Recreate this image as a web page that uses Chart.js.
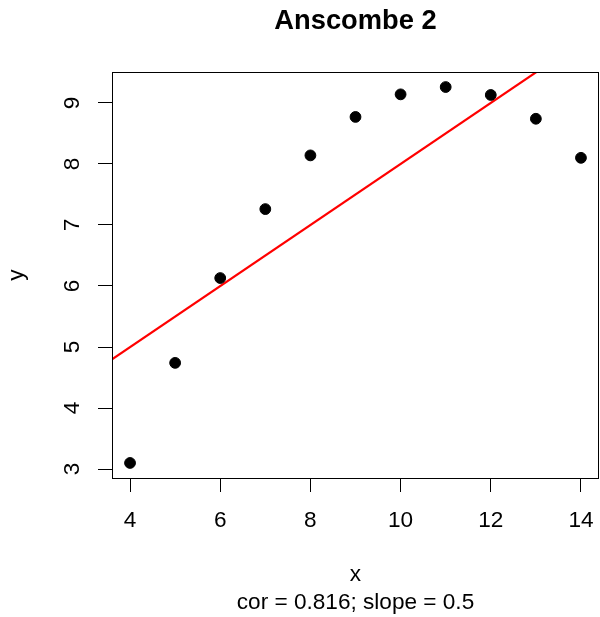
<!DOCTYPE html>
<html>
<head>
<meta charset="utf-8">
<title>Anscombe 2</title>
<script src="https://cdn.jsdelivr.net/npm/chart.js@4"></script>
<style>
  html, body { margin: 0; padding: 0; background: #fff; }
  #wrap { width: 600px; height: 617px; }
</style>
</head>
<body>
<div id="wrap"><canvas id="plot" width="600" height="617"></canvas></div>
<script>
// Anscombe's quartet, set 2
const xValues = [10, 8, 13, 9, 11, 14, 6, 4, 12, 7, 5];
const yValues = [9.14, 8.14, 8.74, 8.77, 9.26, 8.10, 6.13, 3.10, 9.13, 7.26, 4.74];

// least squares line, taken at the two ends of the x range
const fitX = [3.6, 14.4];
const fitY = [4.8, 10.2];

const xTicks = [4, 6, 8, 10, 12, 14];
const yTicks = [3, 4, 5, 6, 7, 8, 9];
const xRange = [3.6, 14.4];
const yRange = [2.8536, 9.5064];

const plotTitle = 'Anscombe 2';
const xLabel = 'x';
const subLabel = 'cor = 0.816; slope = 0.5';
const yLabel = 'y';

const FONT = '"Liberation Sans", Arial, Helvetica, sans-serif';
const FS = 22.6;
Chart.defaults.color = '#000';
Chart.defaults.font.family = FONT;

const points = xValues.map((x, i) => ({ x: x, y: yValues[i] }));
const fitLine = fitX.map((x, i) => ({ x: x, y: fitY[i] }));

// box round the plot region plus the main title on top
const framePlugin = {
  id: 'frame',
  afterDraw(chart) {
    const a = chart.chartArea;
    const ctx = chart.ctx;
    ctx.save();
    ctx.strokeStyle = '#000';
    ctx.lineWidth = 1;
    ctx.strokeRect(Math.round(a.left) + 0.5, Math.round(a.top) + 0.5,
      Math.round(a.right - a.left) - 1, Math.round(a.bottom - a.top));
    ctx.fillStyle = '#000';
    ctx.font = 'bold 27.3px ' + FONT;
    ctx.textAlign = 'center';
    ctx.textBaseline = 'alphabetic';
    ctx.fillText(plotTitle, (a.left + a.right) / 2, 28.8);
    ctx.restore();
  }
};

new Chart(document.getElementById('plot'), {
  type: 'scatter',
  data: {
    datasets: [
      {
        type: 'line',
        data: fitLine,
        borderColor: '#ff0000',
        borderWidth: 2.2,
        pointRadius: 0,
        fill: false,
        clip: 0,
        order: 2
      },
      {
        data: points,
        backgroundColor: '#000',
        borderColor: '#000',
        borderWidth: 1,
        pointRadius: 5.4,
        order: 1
      }
    ]
  },
  options: {
    responsive: false,
    animation: false,
    events: [],
    layout: { autoPadding: false, padding: { top: 72, right: 1, left: 0, bottom: 0 } },
    plugins: {
      legend: { display: false },
      tooltip: { enabled: false },
      title: { display: false }
    },
    scales: {
      x: {
        type: 'linear',
        position: 'bottom',
        min: xRange[0],
        max: xRange[1],
        afterBuildTicks: s => { s.ticks = xTicks.map(v => ({ value: v })); },
        afterFit: s => { s.height = 139; s.paddingLeft = 0; s.paddingRight = 0; },
        border: { display: false },
        grid: { display: true, drawOnChartArea: false, drawTicks: true, tickLength: 14, color: '#000', lineWidth: 1 },
        ticks: { font: { size: FS }, padding: 15, color: '#000', maxRotation: 0, minRotation: 0 },
        title: {
          display: true,
          text: [xLabel, subLabel],
          font: { size: FS, lineHeight: 1.21 },
          padding: { top: 0, bottom: 1 },
          color: '#000'
        }
      },
      y: {
        type: 'linear',
        position: 'left',
        min: yRange[0],
        max: yRange[1],
        afterBuildTicks: s => { s.ticks = yTicks.map(v => ({ value: v })); },
        afterFit: s => { s.width = 112; s.paddingTop = 0; s.paddingBottom = 0; },
        border: { display: false },
        grid: { display: true, drawOnChartArea: false, drawTicks: true, tickLength: 14, color: '#000', lineWidth: 1 },
        ticks: { font: { size: FS }, padding: 19, color: '#000', minRotation: 90, maxRotation: 90, crossAlign: 'center' },
        title: {
          display: true,
          text: yLabel,
          font: { size: FS },
          padding: { top: 3, bottom: 0 },
          color: '#000'
        }
      }
    }
  },
  plugins: [framePlugin]
});
</script>
</body>
</html>
